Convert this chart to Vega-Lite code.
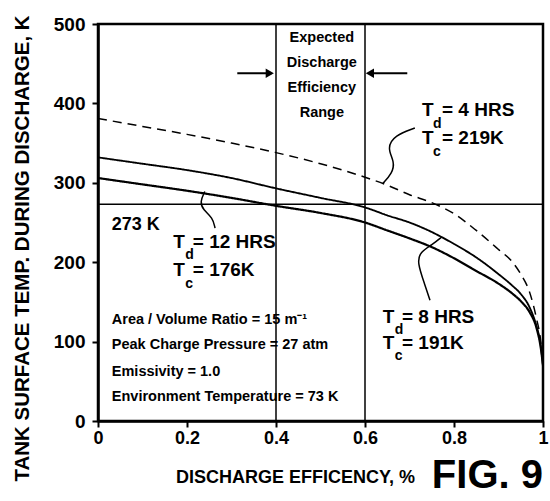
{
  "$schema": "https://vega.github.io/schema/vega-lite/v6.json",
  "width": 445,
  "height": 397,
  "autosize": "none",
  "padding": {"left": 98, "top": 24, "right": 7, "bottom": 80},
  "background": "white",
  "title": {"text": "FIG. 9", "orient": "bottom", "anchor": "end", "frame": "group", "fontSize": 40, "fontWeight": 900, "color": "black", "offset": 0, "dy": -30},
  "datasets": {
    "curves": [
      {"series": "4 HRS", "x": 0, "y": 381}, {"series": "4 HRS", "x": 0.1, "y": 371}, {"series": "4 HRS", "x": 0.2, "y": 361}, {"series": "4 HRS", "x": 0.3, "y": 350}, {"series": "4 HRS", "x": 0.4, "y": 338}, {"series": "4 HRS", "x": 0.5, "y": 324}, {"series": "4 HRS", "x": 0.6, "y": 307}, {"series": "4 HRS", "x": 0.65, "y": 297}, {"series": "4 HRS", "x": 0.7, "y": 285}, {"series": "4 HRS", "x": 0.75, "y": 275}, {"series": "4 HRS", "x": 0.8, "y": 261}, {"series": "4 HRS", "x": 0.85, "y": 240}, {"series": "4 HRS", "x": 0.9, "y": 216}, {"series": "4 HRS", "x": 0.93, "y": 201}, {"series": "4 HRS", "x": 0.95, "y": 185}, {"series": "4 HRS", "x": 0.97, "y": 162}, {"series": "4 HRS", "x": 0.985, "y": 130}, {"series": "4 HRS", "x": 0.995, "y": 100}, {"series": "4 HRS", "x": 1, "y": 70},
      {"series": "8 HRS", "x": 0, "y": 332}, {"series": "8 HRS", "x": 0.1, "y": 324}, {"series": "8 HRS", "x": 0.2, "y": 316}, {"series": "8 HRS", "x": 0.3, "y": 306}, {"series": "8 HRS", "x": 0.4, "y": 293}, {"series": "8 HRS", "x": 0.5, "y": 281}, {"series": "8 HRS", "x": 0.6, "y": 269}, {"series": "8 HRS", "x": 0.65, "y": 259}, {"series": "8 HRS", "x": 0.7, "y": 250}, {"series": "8 HRS", "x": 0.75, "y": 238}, {"series": "8 HRS", "x": 0.8, "y": 223}, {"series": "8 HRS", "x": 0.85, "y": 206}, {"series": "8 HRS", "x": 0.9, "y": 185}, {"series": "8 HRS", "x": 0.93, "y": 171}, {"series": "8 HRS", "x": 0.95, "y": 160}, {"series": "8 HRS", "x": 0.97, "y": 143}, {"series": "8 HRS", "x": 0.985, "y": 120}, {"series": "8 HRS", "x": 0.995, "y": 95}, {"series": "8 HRS", "x": 1, "y": 70},
      {"series": "12 HRS", "x": 0, "y": 306}, {"series": "12 HRS", "x": 0.1, "y": 298}, {"series": "12 HRS", "x": 0.2, "y": 290}, {"series": "12 HRS", "x": 0.3, "y": 281}, {"series": "12 HRS", "x": 0.4, "y": 271}, {"series": "12 HRS", "x": 0.5, "y": 262}, {"series": "12 HRS", "x": 0.6, "y": 250}, {"series": "12 HRS", "x": 0.65, "y": 240}, {"series": "12 HRS", "x": 0.7, "y": 230}, {"series": "12 HRS", "x": 0.75, "y": 219}, {"series": "12 HRS", "x": 0.8, "y": 205}, {"series": "12 HRS", "x": 0.85, "y": 189}, {"series": "12 HRS", "x": 0.9, "y": 173}, {"series": "12 HRS", "x": 0.93, "y": 161}, {"series": "12 HRS", "x": 0.95, "y": 151}, {"series": "12 HRS", "x": 0.97, "y": 137}, {"series": "12 HRS", "x": 0.985, "y": 118}, {"series": "12 HRS", "x": 0.995, "y": 92}, {"series": "12 HRS", "x": 1, "y": 70}
    ],
    "vlines": [{"x": 0.4}, {"x": 0.6}],
    "hlines": [{"y": 273}],
    "leaders": [
      {"id": "4", "i": 0, "x": 0.712, "y": 369}, {"id": "4", "i": 1, "x": 0.667, "y": 360}, {"id": "4", "i": 2, "x": 0.649, "y": 344}, {"id": "4", "i": 3, "x": 0.667, "y": 326}, {"id": "4", "i": 4, "x": 0.661, "y": 312}, {"id": "4", "i": 5, "x": 0.64, "y": 299},
      {"id": "12", "i": 0, "x": 0.263, "y": 243}, {"id": "12", "i": 1, "x": 0.258, "y": 256}, {"id": "12", "i": 2, "x": 0.236, "y": 266}, {"id": "12", "i": 3, "x": 0.229, "y": 276}, {"id": "12", "i": 4, "x": 0.24, "y": 289},
      {"id": "8", "i": 0, "x": 0.746, "y": 152}, {"id": "8", "i": 1, "x": 0.735, "y": 171}, {"id": "8", "i": 2, "x": 0.717, "y": 200}, {"id": "8", "i": 3, "x": 0.724, "y": 213}, {"id": "8", "i": 4, "x": 0.751, "y": 222}, {"id": "8", "i": 5, "x": 0.773, "y": 232}
    ],
    "arrows": [{"x": 0.313, "x2": 0.39, "y": 438}, {"x": 0.695, "x2": 0.615, "y": 438}],
    "heads": [{"x": 0.386, "y": 438, "dir": "right"}, {"x": 0.611, "y": 438, "dir": "left"}],
    "bigText": [
      {"x": 0.728, "y": 392, "text": "T"}, {"x": 0.773, "y": 392, "text": "= 4 HRS"},
      {"x": 0.728, "y": 356, "text": "T"}, {"x": 0.773, "y": 356, "text": "= 219K"},
      {"x": 0.169, "y": 225, "text": "T"}, {"x": 0.213, "y": 225, "text": "= 12 HRS"},
      {"x": 0.169, "y": 190, "text": "T"}, {"x": 0.213, "y": 190, "text": "= 176K"},
      {"x": 0.64, "y": 131, "text": "T"}, {"x": 0.683, "y": 131, "text": "= 8 HRS"},
      {"x": 0.64, "y": 98, "text": "T"}, {"x": 0.683, "y": 98, "text": "= 191K"}
    ],
    "markText": [{"x": 0.031, "y": 247, "text": "273 K"}],
    "subText": [
      {"x": 0.753, "y": 374, "text": "d"}, {"x": 0.753, "y": 339, "text": "c"},
      {"x": 0.196, "y": 209, "text": "d"}, {"x": 0.196, "y": 173, "text": "c"},
      {"x": 0.667, "y": 115, "text": "d"}, {"x": 0.667, "y": 82, "text": "c"}
    ],
    "rangeText": [
      {"x": 0.503, "y": 482, "text": "Expected"}, {"x": 0.503, "y": 451, "text": "Discharge"},
      {"x": 0.503, "y": 419, "text": "Efficiency"}, {"x": 0.503, "y": 388, "text": "Range"}
    ],
    "notes": [
      {"x": 0.031, "y": 127, "text": "Area / Volume Ratio = 15 m⁻¹"},
      {"x": 0.031, "y": 96, "text": "Peak Charge Pressure = 27 atm"},
      {"x": 0.031, "y": 62, "text": "Emissivity = 1.0"},
      {"x": 0.031, "y": 30, "text": "Environment Temperature = 73 K"}
    ]
  },
  "encoding": {
    "x": {"type": "quantitative", "scale": {"domain": [0, 1], "nice": false, "zero": false}},
    "y": {"type": "quantitative", "scale": {"domain": [0, 500], "nice": false}}
  },
  "layer": [
    {
      "data": {"name": "vlines"},
      "mark": {"type": "rule", "color": "black", "strokeWidth": 1.5},
      "encoding": {"x": {"field": "x", "type": "quantitative", "axis": {"title": "DISCHARGE EFFICENCY, %", "values": [0, 0.2, 0.4, 0.6, 0.8, 1], "format": "~g"}}}
    },
    {
      "data": {"name": "hlines"},
      "mark": {"type": "rule", "color": "black", "strokeWidth": 1.5},
      "encoding": {"y": {"field": "y", "type": "quantitative", "axis": {"title": "TANK SURFACE TEMP. DURING DISCHARGE, K", "values": [0, 100, 200, 300, 400, 500]}}}
    },
    {
      "data": {"name": "curves"},
      "mark": {"type": "line", "color": "black", "interpolate": "monotone"},
      "encoding": {
        "x": {"field": "x", "type": "quantitative"},
        "y": {"field": "y", "type": "quantitative"},
        "detail": {"field": "series"},
        "strokeDash": {"field": "series", "type": "nominal", "scale": {"domain": ["4 HRS", "8 HRS", "12 HRS"], "range": [[9, 6], [1, 0], [1, 0]]}, "legend": null},
        "strokeWidth": {"field": "series", "type": "nominal", "scale": {"domain": ["4 HRS", "8 HRS", "12 HRS"], "range": [1.5, 2.2, 3]}, "legend": null}
      }
    },
    {
      "data": {"name": "leaders"},
      "mark": {"type": "line", "color": "black", "strokeWidth": 1.5, "interpolate": "basis"},
      "encoding": {
        "x": {"field": "x", "type": "quantitative"},
        "y": {"field": "y", "type": "quantitative"},
        "detail": {"field": "id"},
        "order": {"field": "i", "type": "quantitative"}
      }
    },
    {
      "data": {"name": "arrows"},
      "mark": {"type": "rule", "color": "black", "strokeWidth": 2},
      "encoding": {
        "x": {"field": "x", "type": "quantitative"},
        "x2": {"field": "x2"},
        "y": {"field": "y", "type": "quantitative"}
      }
    },
    {
      "data": {"name": "heads"},
      "mark": {"type": "point", "filled": true, "color": "black", "opacity": 1, "size": 90},
      "encoding": {
        "x": {"field": "x", "type": "quantitative"},
        "y": {"field": "y", "type": "quantitative"},
        "shape": {"field": "dir", "type": "nominal", "scale": {"domain": ["right", "left"], "range": ["triangle-right", "triangle-left"]}, "legend": null}
      }
    },
    {
      "data": {"name": "bigText"},
      "mark": {"type": "text", "align": "left", "baseline": "middle", "fontSize": 19, "fontWeight": "bold", "color": "black"},
      "encoding": {"x": {"field": "x", "type": "quantitative"}, "y": {"field": "y", "type": "quantitative"}, "text": {"field": "text"}}
    },
    {
      "data": {"name": "markText"},
      "mark": {"type": "text", "align": "left", "baseline": "middle", "fontSize": 18, "fontWeight": "bold", "color": "black"},
      "encoding": {"x": {"field": "x", "type": "quantitative"}, "y": {"field": "y", "type": "quantitative"}, "text": {"field": "text"}}
    },
    {
      "data": {"name": "subText"},
      "mark": {"type": "text", "align": "left", "baseline": "middle", "fontSize": 14, "fontWeight": "bold", "color": "black"},
      "encoding": {"x": {"field": "x", "type": "quantitative"}, "y": {"field": "y", "type": "quantitative"}, "text": {"field": "text"}}
    },
    {
      "data": {"name": "rangeText"},
      "mark": {"type": "text", "align": "center", "baseline": "middle", "fontSize": 14.5, "fontWeight": "bold", "color": "black"},
      "encoding": {"x": {"field": "x", "type": "quantitative"}, "y": {"field": "y", "type": "quantitative"}, "text": {"field": "text"}}
    },
    {
      "data": {"name": "notes"},
      "mark": {"type": "text", "align": "left", "baseline": "middle", "fontSize": 14.5, "fontWeight": "bold", "color": "black"},
      "encoding": {"x": {"field": "x", "type": "quantitative"}, "y": {"field": "y", "type": "quantitative"}, "text": {"field": "text"}}
    }
  ],
  "config": {
    "font": "Liberation Sans, Arial, sans-serif",
    "view": {"stroke": "black", "strokeWidth": 2.5},
    "axis": {
      "grid": false,
      "domainColor": "black",
      "domainWidth": 2.5,
      "tickColor": "black",
      "tickWidth": 2,
      "tickSize": 6,
      "labelColor": "black",
      "labelFontWeight": "bold",
      "labelFlush": false,
      "labelOverlap": false,
      "titleColor": "black",
      "titleFontWeight": "bold"
    },
    "axisX": {"labelFontSize": 18, "labelPadding": 2, "titleFontSize": 18, "titleX": 197, "titleY": 56, "titleBaseline": "middle", "titleAlign": "center"},
    "axisY": {"labelFontSize": 19, "labelPadding": 7, "titleFontSize": 20.5, "titleX": -76, "titleY": 224, "titleBaseline": "middle", "titleAlign": "center", "titleAngle": 270}
  }
}
